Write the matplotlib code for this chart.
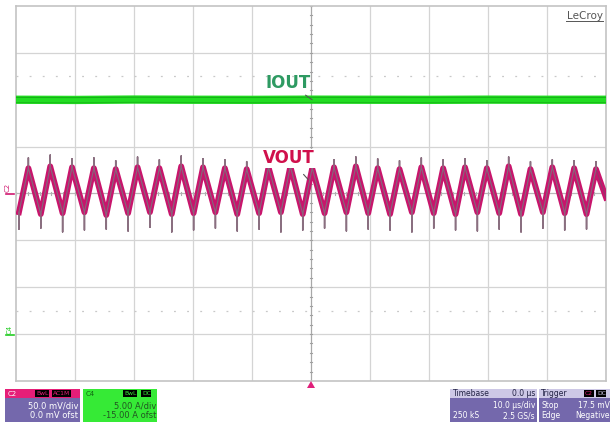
import numpy as np
import matplotlib
matplotlib.use("Agg")
import matplotlib.pyplot as plt
from matplotlib.patches import Rectangle, Polygon

# ---------------- data ----------------
VOLT_PER_DIV_MV = 50.0       # C2
AMP_PER_DIV = 5.0            # C4
C4_OFFSET_A = -15.0
TIME_PER_DIV_US = 10.0

# VOUT ripple: one entry per switching cycle (time of peak, µs)
vout_peak_t = [-47.9, -44.2, -40.5, -36.8, -33.1, -29.4, -25.7, -22.0, -18.3,
               -14.6, -10.9, -7.2, -3.5, 0.2, 3.9, 7.6, 11.3, 15.0, 18.7,
               22.4, 26.1, 29.8, 33.5, 37.2, 40.9, 44.6, 48.3]
vout_peak_mv = [27, 29, 28, 27, 26, 28, 27, 29, 28, 27, 26, 28, 29, 27, 28,
                29, 27, 26, 28, 27, 28, 27, 29, 26, 28, 27, 26]
vout_spike_hi_mv = [38, 41, 37, 38, 35, 39, 36, 40, 37, 36, 34, 38, 40, 37, 36,
                    39, 37, 35, 38, 36, 37, 35, 39, 34, 36, 35, 34]
vout_trough_mv = [-20, -22, -21, -20, -23, -21, -20, -22, -21, -20, -22, -21,
                  -20, -22, -21, -20, -21, -22, -20, -21, -22, -20, -21, -22,
                  -20, -21, -22]
vout_spike_lo_mv = [-38, -37, -41, -39, -38, -40, -36, -41, -39, -37, -40, -38,
                    -41, -39, -37, -40, -38, -39, -41, -37, -39, -40, -38, -41,
                    -37, -39, -38]
vout_rise_us = 1.6           # trough -> peak

# IOUT: flat current, A
iout_t = [-50, -40, -30, -20, -10, 0, 10, 20, 30, 40, 50]
iout_a = [25.0, 24.98, 25.02, 25.0, 24.99, 25.01, 25.0, 24.99, 25.01, 25.0, 25.0]

c2_info = ["50.0 mV/div", "0.0 mV ofst"]
c4_info = ["5.00 A/div", "-15.00 A ofst"]
tb_info = ["Timebase", "0.0 µs", "10.0 µs/div", "250 kS", "2.5 GS/s"]
trig_info = ["Trigger", "Stop", "17.5 mV", "Edge", "Negative"]

# ---------------- figure ----------------
W, H = 610, 423
fig = plt.figure(figsize=(W / 100, H / 100), dpi=100)
fig.patch.set_facecolor("white")

L, R, T, B = 16, 606, 6, 381
ax = fig.add_axes([L / W, 1 - B / H, (R - L) / W, (B - T) / H])
ax.set_xlim(-5, 5)
ax.set_ylim(-4, 4)
ax.set_facecolor("white")
ax.set_xticks([])
ax.set_yticks([])
for s in ax.spines.values():
    s.set_color("#c4c4c4")
    s.set_linewidth(1.2)

grid_c = "#d4d4d4"
for gx in range(-4, 5):
    ax.axvline(gx, color=grid_c if gx else "#a8a8a8", lw=0.9, zorder=1)
for gy in range(-3, 4):
    ax.axhline(gy, color=grid_c if gy else "#b8b8b8", lw=0.9, zorder=1)
for gy in (-2.5, 2.5):
    ax.axhline(gy, color="#c8c8c8", lw=0.9, ls=(0, (1.5, 9)), zorder=1)
# centre-line minor ticks
for v in np.arange(-4, 4.01, 0.2):
    ax.plot([-0.02, 0.02], [v, v], color="#a0a0a0", lw=0.8, zorder=1)
for v in np.arange(-5, 5.01, 0.2):
    ax.plot([v, v], [-0.035, 0.035], color="#b0b0b0", lw=0.8, zorder=1)

# VOUT path
tx, vy, sx, sy = [], [], [], []
for tp, pk, hi, tr, lo in zip(vout_peak_t, vout_peak_mv, vout_spike_hi_mv,
                              vout_trough_mv, vout_spike_lo_mv):
    tt = tp - vout_rise_us
    tx += [tt, tp]
    vy += [tr, pk]
    sx += [tt, tt, tt, tp, tp, tp]
    sy += [tr, lo, tr, pk, hi, pk]
tx.append(50.0)
vy.append(vout_trough_mv[-1] * 0.2)
tx = np.array(tx) / TIME_PER_DIV_US
vy = np.array(vy) / VOLT_PER_DIV_MV
sx = np.array(sx) / TIME_PER_DIV_US
sy = np.array(sy) / VOLT_PER_DIV_MV

ax.plot(sx, sy, color="#8a6f80", lw=1.1, zorder=3)
ax.plot(tx, vy, color="#c8156c", lw=4.2, zorder=4, solid_joinstyle="round")
ax.plot(tx, vy, color="#8c3c6c", lw=0.7, zorder=5)
ax.plot(sx, sy, color="#8a6f80", lw=0.8, zorder=5, alpha=0.8)

# IOUT
iy = (np.array(iout_a) + C4_OFFSET_A) / AMP_PER_DIV
it = np.array(iout_t) / TIME_PER_DIV_US
ax.plot(it, iy, color="#22dd22", lw=6.0, zorder=4, solid_capstyle="butt")
ax.plot(it, iy + 0.05, color="#14a814", lw=0.8, zorder=5, alpha=0.8)
ax.plot(it, iy - 0.06, color="#14a814", lw=0.8, zorder=5, alpha=0.6)

# annotations
ax.annotate("IOUT", xy=(0.02, 2.0), xytext=(-0.38, 2.35),
            color="#2e9a62", fontsize=12, fontweight="bold",
            ha="center", va="center", family="DejaVu Sans",
            arrowprops=dict(arrowstyle="-", color="#555555", lw=0.8,
                            shrinkA=6, shrinkB=0), zorder=6)
ax.annotate("VOUT", xy=(-0.05, 0.3), xytext=(-0.37, 0.75),
            color="#d0104c", fontsize=12, fontweight="bold",
            ha="center", va="center", family="DejaVu Sans",
            arrowprops=dict(arrowstyle="-", color="#555555", lw=0.8,
                            shrinkA=6, shrinkB=0), zorder=6,
            bbox=dict(boxstyle="square,pad=0.05", fc="white", ec="none"))

# ---------------- overlay in pixel coordinates ----------------
ov = fig.add_axes([0, 0, 1, 1], facecolor="none")
ov.set_xlim(0, W)
ov.set_ylim(H, 0)
ov.axis("off")

ov.text(603, 16, "LeCroy", ha="right", va="center", fontsize=7.5,
        color="#555555")
ov.plot([566, 603], [21, 21], color="#555555", lw=0.7)

# channel markers
ov.text(8, 187, "C2", rotation=90, ha="center", va="center", fontsize=5,
        color="#d01870")
ov.plot([6, 14], [194, 194], color="#d01870", lw=1.2)
ov.text(10, 329, "C4", rotation=90, ha="center", va="center", fontsize=5,
        color="#22cc22")
ov.plot([6, 14], [335, 335], color="#22cc22", lw=1.2)
ov.add_patch(Polygon([[307, 388], [315, 388], [311, 381]], closed=True,
                     fc="#e0207a", ec="none"))

purple = "#7468ac"
badge = dict(boxstyle="square,pad=0.1", fc="black", ec="none")
# C2 box
ov.add_patch(Rectangle((5, 389), 75, 9, fc="#e61e78", ec="none"))
ov.add_patch(Rectangle((5, 398), 75, 24, fc=purple, ec="none"))
ov.text(8, 393.5, "C2", fontsize=5, color="#ffffff", va="center")
ov.text(36, 393.5, "BwL", fontsize=4.3, color="#e61e78", va="center", bbox=badge)
ov.text(53, 393.5, "AC1M", fontsize=4.3, color="#e61e78", va="center", bbox=badge)
ov.text(78, 406, c2_info[0], fontsize=6, color="white", ha="right", va="center")
ov.text(78, 416, c2_info[1], fontsize=6, color="white", ha="right", va="center")

# C4 box
ov.add_patch(Rectangle((83, 389), 74, 33, fc="#36ea36", ec="none"))
ov.text(86, 393.5, "C4", fontsize=5, color="#116611", va="center")
ov.text(124, 393.5, "BwL", fontsize=4.3, color="#36ea36", va="center", bbox=badge)
ov.text(142, 393.5, "DC", fontsize=4.3, color="#36ea36", va="center", bbox=badge)
ov.text(156, 406, c4_info[0], fontsize=6, color="#225522", ha="right", va="center")
ov.text(156, 416, c4_info[1], fontsize=6, color="#225522", ha="right", va="center")

# Timebase box
ov.add_patch(Rectangle((450, 389), 87, 9, fc="#cdc8e6", ec="none"))
ov.add_patch(Rectangle((450, 398), 87, 24, fc=purple, ec="none"))
ov.text(453, 393.5, tb_info[0], fontsize=5.5, color="#222244", va="center")
ov.text(535, 393.5, tb_info[1], fontsize=5.5, color="#222244", ha="right", va="center")
ov.text(535, 406, tb_info[2], fontsize=5.5, color="white", ha="right", va="center")
ov.text(453, 416, tb_info[3], fontsize=5.5, color="white", va="center")
ov.text(535, 416, tb_info[4], fontsize=5.5, color="white", ha="right", va="center")

# Trigger box
ov.add_patch(Rectangle((539, 389), 71, 9, fc="#cdc8e6", ec="none"))
ov.add_patch(Rectangle((539, 398), 71, 24, fc=purple, ec="none"))
ov.text(541, 393.5, trig_info[0], fontsize=5.5, color="#222244", va="center")
ov.text(585, 393.5, "C2", fontsize=4.3, color="#e61e78", va="center", bbox=badge)
ov.text(597, 393.5, "DC", fontsize=4.3, color="#cdc8e6", va="center", bbox=badge)
ov.text(541, 406, trig_info[1], fontsize=5.5, color="white", va="center")
ov.text(610, 406, trig_info[2], fontsize=5.5, color="white", ha="right", va="center")
ov.text(541, 416, trig_info[3], fontsize=5.5, color="white", va="center")
ov.text(610, 416, trig_info[4], fontsize=5.5, color="white", ha="right", va="center")

fig.savefig("out.png", dpi=100, facecolor="white")
